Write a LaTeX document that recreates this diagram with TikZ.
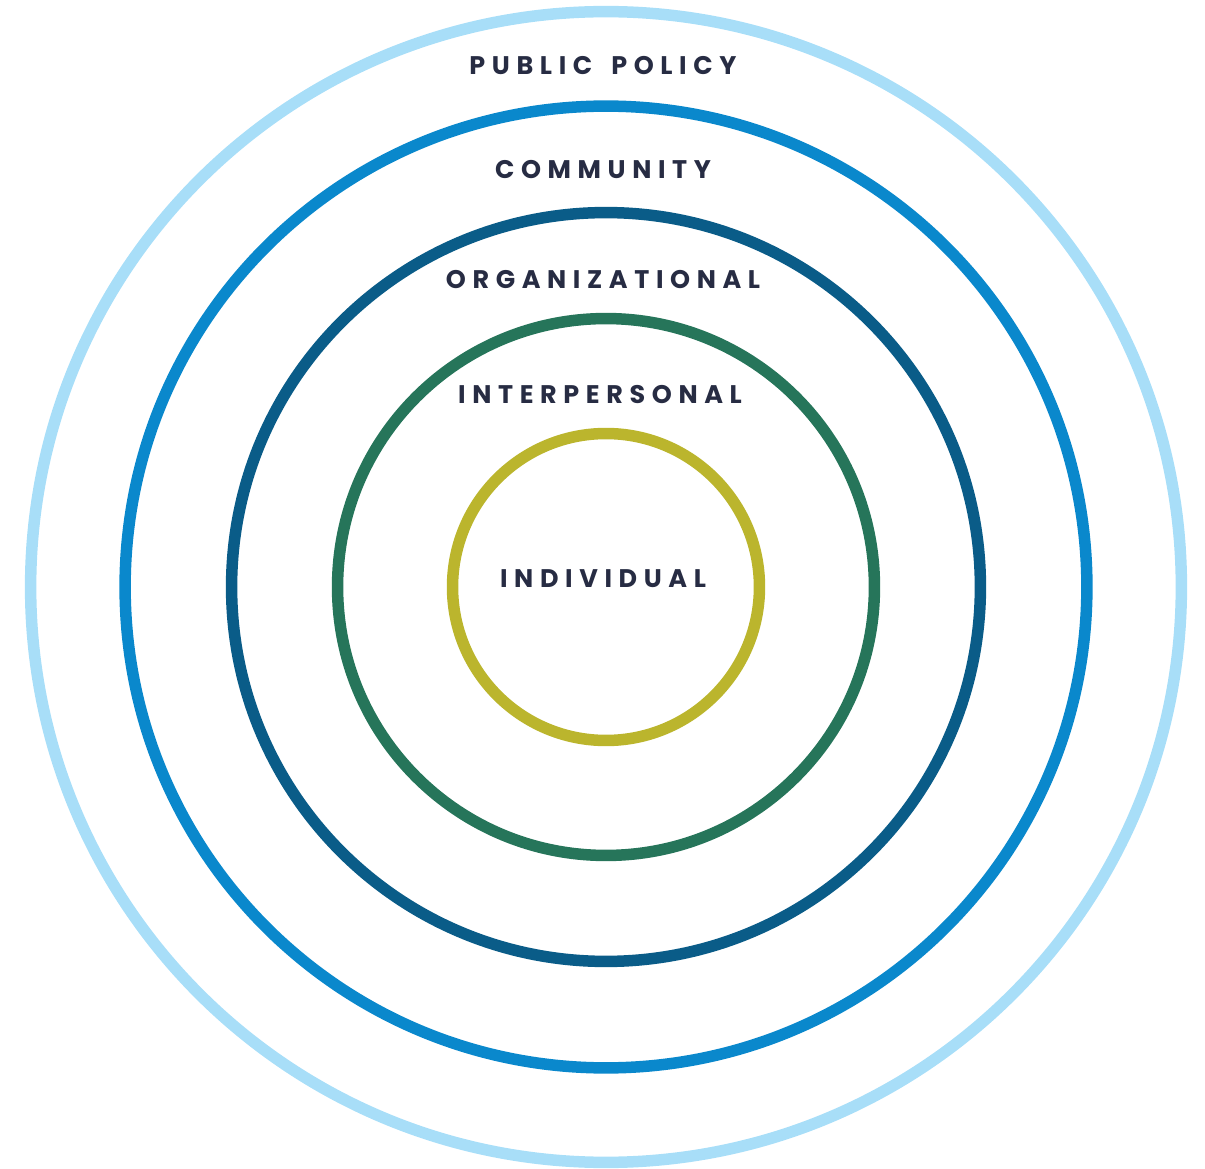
\documentclass[tikz,border=0pt]{standalone}
\usepackage{fontspec}
\setmainfont{Poppins}
\newfontfamily\levelfont[LetterSpace=26]{Poppins}
\usetikzlibrary{positioning}

\definecolor{policyblue}{HTML}{A8DEF8}
\definecolor{communityblue}{HTML}{0A88CC}
\definecolor{orgblue}{HTML}{0A5C88}
\definecolor{interpgreen}{HTML}{26755A}
\definecolor{indivolive}{HTML}{BBB52D}
\definecolor{labelink}{HTML}{272C43}

\tikzset{
	ring/.style={line width=0.23cm},
	level/.style={text=labelink, inner sep=0pt,
		font=\levelfont\bfseries\fontsize{14.5pt}{17pt}\selectfont}
}

\begin{document}
\begin{tikzpicture}[x=0.02cm, y=-0.02cm]
	\useasboundingbox (0,0) rectangle (1205,1169);
	\coordinate (ctr) at (606,587);
	% rings, outside in
	\draw[ring, draw=policyblue] (ctr) circle (11.51cm);
	\draw[ring, draw=communityblue] (ctr) circle (9.62cm);
	\draw[ring, draw=orgblue] (ctr) circle (7.49cm);
	\draw[ring, draw=interpgreen] (ctr) circle (5.37cm);
	\draw[ring, draw=indivolive] (ctr) circle (3.07cm);
	% labels
	\node[level] (policy) at (603,66) {PUBLIC\kern0.38cm POLICY};
	\node[level] (community) at (603,170) {COMMUNITY};
	\node[level] (organizational) at (603,280) {ORGANIZATIONAL};
	\node[level] (interpersonal) at (600,395) {INTERPERSONAL};
	\node[level] (individual) at (603,579) {INDIVIDUAL};
\end{tikzpicture}
\end{document}
